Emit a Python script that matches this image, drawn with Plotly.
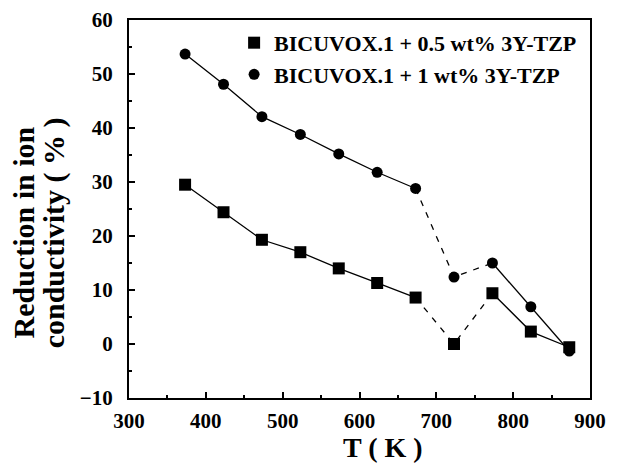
import plotly.graph_objects as go

T = [373, 423, 473, 523, 573, 623, 673, 723, 773, 823, 873]
sq = [29.5, 24.4, 19.3, 17.0, 14.0, 11.3, 8.6, 0.0, 9.4, 2.3, -0.6]
ci = [53.7, 48.1, 42.1, 38.8, 35.2, 31.8, 28.8, 12.4, 15.0, 6.9, -1.3]
names = ["BICUVOX.1 + 0.5 wt% 3Y-TZP", "BICUVOX.1 + 1 wt% 3Y-TZP"]
xticks = [300, 400, 500, 600, 700, 800, 900]
yticks = [-10, 0, 10, 20, 30, 40, 50, 60]
x_title = "T ( K )"
y_title_lines = ["Reduction in ion", "conductivity ( % )"]

FONT = "Liberation Serif"
fig = go.Figure()

for ys, sym, nm, msize in [(sq, "square", names[0], 12), (ci, "circle", names[1], 11)]:
    fig.add_trace(go.Scatter(x=T[:7], y=ys[:7], mode="lines",
                             line=dict(color="black", width=1.3), showlegend=False, hoverinfo="skip"))
    fig.add_trace(go.Scatter(x=T[6:9], y=ys[6:9], mode="lines",
                             line=dict(color="black", width=1.3, dash="6px,7px"), showlegend=False, hoverinfo="skip"))
    fig.add_trace(go.Scatter(x=T[8:], y=ys[8:], mode="lines",
                             line=dict(color="black", width=1.3), showlegend=False, hoverinfo="skip"))
    fig.add_trace(go.Scatter(x=T, y=ys, mode="markers", name=nm,
                             marker=dict(symbol=sym, size=msize, color="black")))

axis_common = dict(showline=True, linecolor="black", linewidth=2, mirror=True,
                   ticks="inside", ticklen=6, tickwidth=1.5, tickcolor="black",
                   showgrid=False, zeroline=False, automargin=False,
                   tickfont=dict(family=FONT, size=21, color="black", weight="bold"))

fig.update_xaxes(range=[300, 900], tickvals=xticks, ticklabelstandoff=3,
                 minor=dict(ticks="inside", ticklen=3, tickwidth=1.5, tickcolor="black", dtick=50),
                 **axis_common)
fig.update_yaxes(range=[-10, 60], tickvals=yticks, ticklabelstandoff=10,
                 minor=dict(ticks="inside", ticklen=3, tickwidth=1.5, tickcolor="black", dtick=5),
                 **axis_common)

fig.add_annotation(text=x_title, xref="paper", yref="paper", x=0.551, y=-0.13,
                   xanchor="center", yanchor="middle", showarrow=False,
                   font=dict(family=FONT, size=28, color="black", weight="bold"))
for txt, xp in zip(y_title_lines, [-0.231, -0.162]):
    fig.add_annotation(text=txt, xref="paper", yref="paper", x=xp, y=0.4365,
                       xanchor="center", yanchor="middle", showarrow=False, textangle=-90,
                       font=dict(family=FONT, size=30, color="black", weight="bold"))

fig.update_layout(
    width=612, height=461,
    margin=dict(l=121, r=30, t=12, b=71),
    paper_bgcolor="white", plot_bgcolor="white",
    legend=dict(x=0.228, y=0.995, xanchor="left", yanchor="top",
                bgcolor="rgba(0,0,0,0)", borderwidth=0,
                font=dict(family=FONT, size=22, color="black", weight="bold"),
                itemwidth=30, tracegroupgap=0),
    showlegend=True,
)

fig.write_html("out.html")
